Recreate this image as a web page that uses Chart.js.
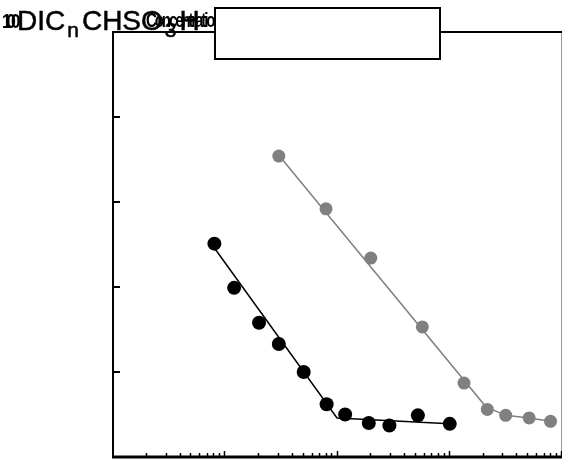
<!DOCTYPE html>
<html>
<head>
<meta charset="utf-8">
<script src="https://cdn.jsdelivr.net/npm/chart.js@4/dist/chart.umd.min.js"></script>
<style>
  html, body { margin: 0; padding: 0; background: #fff; }
  #wrap { position: relative; width: 562px; height: 461px; overflow: hidden; }
  canvas { position: absolute; left: 0; top: 0; }
  .t { position: absolute; font-family: "Liberation Sans", Arial, sans-serif; color: #000; white-space: nowrap; }
  #title { left: 17px; top: 7px; font-size: 28px; line-height: 28px; -webkit-text-stroke: 0.5px #000; }
  #title sub { font-size: 21px; vertical-align: -7px; line-height: 0; margin-left: 2px; margin-right: 3px; }
  #pre { left: 2px; top: 10px; font-size: 21px; font-weight: bold; letter-spacing: -6px; line-height: 22px; transform: scaleX(0.8); transform-origin: left top; }
  #conc { left: 146px; top: 9px; font-size: 21px; font-weight: bold; letter-spacing: -3px; line-height: 22px; transform: scaleX(0.72); transform-origin: left top; }
  #legendBox { position: absolute; left: 214px; top: 7px; width: 227px; height: 53px; box-sizing: border-box; border: 2px solid #000; background: #fff; }
</style>
</head>
<body>
<div id="wrap">
  <canvas id="c" width="562" height="461"></canvas>
  <div class="t" id="title">DIC<sub>n</sub>CHSO<sub>3</sub>H</div>
  <div class="t" id="pre">100</div>
  <div class="t" id="conc">Concentration</div>
  <div id="legendBox"></div>
</div>
<script>
// Concentration (log scale) and surface-tension-like values
const blackX = [8.0e-5, 1.2e-4, 2.0e-4, 3.0e-4, 5.0e-4, 8.0e-4, 1.17e-3, 1.9e-3, 2.9e-3, 5.2e-3, 1.0e-2];
const blackY = [45.1, 39.9, 35.8, 33.3, 30.0, 26.2, 25.0, 24.0, 23.7, 24.9, 23.9];
const blackFitX = [7.8e-5, 9.9e-4, 1.0e-2];
const blackFitY = [44.8, 24.6, 23.9];

const grayX = [3.0e-4, 7.9e-4, 1.98e-3, 5.7e-3, 1.34e-2, 2.16e-2, 3.15e-2, 5.1e-2, 7.9e-2];
const grayY = [55.4, 49.2, 43.4, 35.3, 28.7, 25.6, 24.9, 24.6, 24.2];
const grayFitX = [3.0e-4, 2.1e-2, 3.15e-2, 5.1e-2, 7.9e-2];
const grayFitY = [55.5, 25.9, 24.9, 24.6, 24.2];

const xMin = 1e-5, xMax = 1e-1;
const yMin = 20, yMax = 70;
const yTickValues = [30, 40, 50, 60];
const xDecades = [1e-5, 1e-4, 1e-3, 1e-2];

const pts = (xs, ys) => xs.map((x, i) => ({ x: x, y: ys[i] }));

const axesPlugin = {
  id: 'axesPlugin',
  afterDatasetsDraw(chart) {
    const ctx = chart.ctx;
    const a = chart.chartArea;
    const xs = chart.scales.x, ys = chart.scales.y;
    ctx.save();
    ctx.strokeStyle = '#9a9a9a';
    ctx.lineWidth = 1;
    ctx.beginPath(); ctx.moveTo(a.right - 0.5, a.top); ctx.lineTo(a.right - 0.5, a.bottom); ctx.stroke();
    ctx.strokeStyle = '#000';
    ctx.lineWidth = 2;
    ctx.beginPath(); ctx.moveTo(a.left, a.top); ctx.lineTo(a.right, a.top); ctx.stroke();
    ctx.beginPath(); ctx.moveTo(a.left, a.top - 1); ctx.lineTo(a.left, a.bottom + 1); ctx.stroke();
    ctx.lineWidth = 3;
    ctx.beginPath(); ctx.moveTo(a.left - 1, a.bottom); ctx.lineTo(a.right, a.bottom); ctx.stroke();
    ctx.lineWidth = 2;
    yTickValues.forEach(v => {
      const p = Math.round(ys.getPixelForValue(v));
      ctx.beginPath(); ctx.moveTo(a.left, p); ctx.lineTo(a.left + 7, p); ctx.stroke();
    });
    ctx.lineWidth = 1.5;
    xDecades.forEach(d => {
      for (let k = 2; k <= 10; k++) {
        const v = d * k;
        if (v > xMax * 1.0001) continue;
        const p = Math.round(xs.getPixelForValue(v)) - 0.5;
        const len = (k === 10) ? 6 : 4;
        ctx.beginPath(); ctx.moveTo(p, a.bottom); ctx.lineTo(p, a.bottom - len); ctx.stroke();
      }
    });
    ctx.restore();
  }
};

new Chart(document.getElementById('c'), {
  type: 'scatter',
  data: {
    datasets: [
      { data: pts(blackFitX, blackFitY), showLine: true, borderColor: '#000', borderWidth: 1.5, pointRadius: 0, fill: false },
      { data: pts(grayFitX, grayFitY), showLine: true, borderColor: '#808080', borderWidth: 1.5, pointRadius: 0, fill: false },
      { data: pts(blackX, blackY), showLine: false, pointRadius: 7, pointBorderWidth: 0, backgroundColor: '#000', borderColor: '#000' },
      { data: pts(grayX, grayY), showLine: false, pointRadius: 6.5, pointBorderWidth: 0, backgroundColor: '#808080', borderColor: '#808080' }
    ]
  },
  options: {
    responsive: false,
    animation: false,
    devicePixelRatio: 1,
    layout: { autoPadding: false, padding: { left: 113, top: 32, right: 0, bottom: 4 } },
    plugins: { legend: { display: false }, tooltip: { enabled: false }, title: { display: false } },
    scales: {
      x: { type: 'logarithmic', min: xMin, max: xMax, display: false },
      y: { type: 'linear', min: yMin, max: yMax, display: false }
    },
    elements: { line: { tension: 0 } }
  },
  plugins: [axesPlugin]
});
</script>
</body>
</html>
